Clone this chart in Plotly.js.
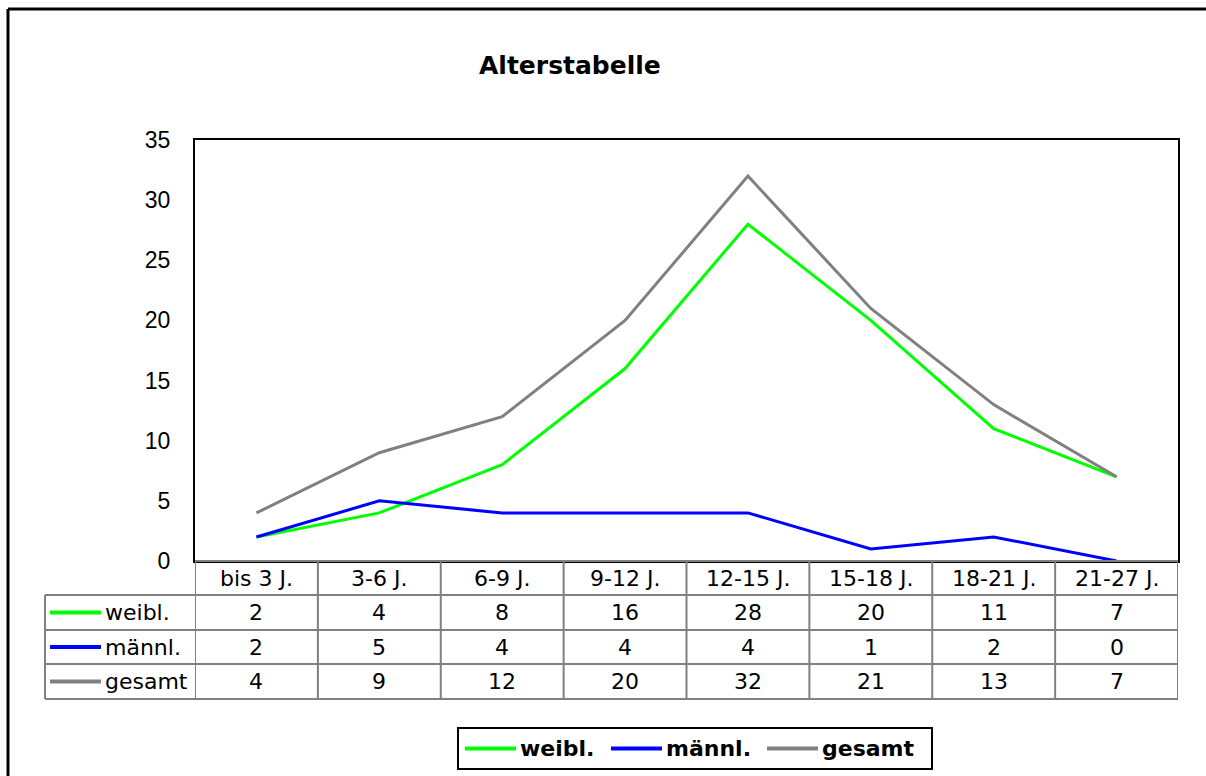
<!DOCTYPE html>
<html>
<head>
<meta charset="utf-8">
<script src="https://cdn.plot.ly/plotly-3.0.1.min.js"></script>
<style>
html,body{margin:0;padding:0;background:#fff;}
#chart{width:1206px;height:776px;}
</style>
</head>
<body>
<div id="chart"></div>
<script>
// ---- data ----
const categories = ['bis 3 J.', '3-6 J.', '6-9 J.', '9-12 J.', '12-15 J.', '15-18 J.', '18-21 J.', '21-27 J.'];
const weibl  = [2, 4, 8, 16, 28, 20, 11, 7];
const maennl = [2, 5, 4, 4, 4, 1, 2, 0];
const gesamt = [4, 9, 12, 20, 32, 21, 13, 7];
const seriesNames = ['weibl.', 'männl.', 'gesamt'];
const seriesColors = ['#00FF00', '#0000FF', '#808080'];
const chartTitle = 'Alterstabelle';

// ---- layout helpers ----
const W = 1206, H = 776;
const px = v => v / W;
const py = v => 1 - v / H;
const plotL = 195, plotR = 1178, plotT = 140, plotB = 561;
const tableLeft = 45;
const rowEdges = [561, 595, 630, 664, 699];
const tableColor = '#808080';
const tableFont = {family: 'DejaVu Sans, Verdana, sans-serif', size: 22, color: '#000'};
const legendFont = {family: 'DejaVu Sans, Verdana, sans-serif', size: 22, color: '#000', weight: 'bold'};

const seriesValues = [weibl, maennl, gesamt];

const traces = seriesValues.map((vals, i) => ({
  type: 'scatter',
  mode: 'lines',
  x: categories,
  y: vals,
  name: seriesNames[i],
  line: {color: seriesColors[i], width: 3},
  showlegend: false
}));

const shapes = [];
const annotations = [];

// outer frame (top & left)
shapes.push({type: 'line', xref: 'paper', yref: 'paper', x0: px(8), x1: 1.01, y0: py(9), y1: py(9), line: {color: '#000', width: 3}});
shapes.push({type: 'line', xref: 'paper', yref: 'paper', x0: px(8), x1: px(8), y0: py(9), y1: -0.01, line: {color: '#000', width: 3}});

// table horizontal lines
shapes.push({type: 'line', xref: 'paper', yref: 'paper', x0: px(plotL), x1: px(plotR), y0: py(rowEdges[0]), y1: py(rowEdges[0]), line: {color: tableColor, width: 2}});
for (let r = 1; r < rowEdges.length; r++) {
  shapes.push({type: 'line', xref: 'paper', yref: 'paper', x0: px(tableLeft), x1: px(plotR), y0: py(rowEdges[r]), y1: py(rowEdges[r]), line: {color: tableColor, width: 2}});
}
// table vertical lines at category boundaries
for (let k = 0; k <= categories.length; k++) {
  shapes.push({type: 'line', xref: 'x', yref: 'paper', x0: k - 0.5, x1: k - 0.5, y0: py(rowEdges[0]), y1: py(rowEdges[4]), line: {color: tableColor, width: 2}});
}
shapes.push({type: 'line', xref: 'paper', yref: 'paper', x0: px(tableLeft), x1: px(tableLeft), y0: py(rowEdges[1]), y1: py(rowEdges[4]), line: {color: tableColor, width: 2}});

// header row
categories.forEach((c, i) => {
  annotations.push({xref: 'x', yref: 'paper', x: c, y: py((rowEdges[0] + rowEdges[1]) / 2), text: c, showarrow: false, xanchor: 'center', yanchor: 'middle', font: tableFont});
});
// data rows
seriesValues.forEach((vals, s) => {
  const yc = py((rowEdges[s + 1] + rowEdges[s + 2]) / 2);
  shapes.push({type: 'line', xref: 'paper', yref: 'paper', x0: px(50), x1: px(101), y0: yc, y1: yc, line: {color: seriesColors[s], width: 4}});
  annotations.push({xref: 'paper', yref: 'paper', x: px(103), y: yc, text: seriesNames[s], showarrow: false, xanchor: 'left', yanchor: 'middle', font: tableFont});
  vals.forEach((v, i) => {
    annotations.push({xref: 'x', yref: 'paper', x: categories[i], y: yc, text: String(v), showarrow: false, xanchor: 'center', yanchor: 'middle', font: tableFont});
  });
});

// legend box (custom, below table)
const legTop = 728, legBot = 769, legL = 458, legR = 932;
const legLineStarts = [465, 611, 767];
const legYc = py((legTop + legBot) / 2);
shapes.push({type: 'rect', xref: 'paper', yref: 'paper', x0: px(legL), x1: px(legR), y0: py(legBot), y1: py(legTop), line: {color: '#000', width: 2}, fillcolor: 'rgba(0,0,0,0)'});
seriesNames.forEach((n, s) => {
  const x0 = legLineStarts[s];
  shapes.push({type: 'line', xref: 'paper', yref: 'paper', x0: px(x0), x1: px(x0 + 51), y0: legYc, y1: legYc, line: {color: seriesColors[s], width: 4}});
  annotations.push({xref: 'paper', yref: 'paper', x: px(x0 + 53), y: legYc, text: '<b>' + n + '</b>', showarrow: false, xanchor: 'left', yanchor: 'middle', font: legendFont});
});

// title
annotations.push({xref: 'paper', yref: 'paper', x: px(570), y: py(65), text: '<b>' + chartTitle + '</b>', showarrow: false, xanchor: 'center', yanchor: 'middle', font: {family: 'DejaVu Sans, Verdana, sans-serif', size: 25, color: '#000'}});

const layout = {
  width: W, height: H,
  margin: {l: 0, r: 0, t: 0, b: 0},
  paper_bgcolor: '#fff',
  plot_bgcolor: '#fff',
  showlegend: false,
  xaxis: {
    domain: [px(plotL), px(plotR)],
    type: 'category',
    range: [-0.5, categories.length - 0.5],
    showticklabels: false,
    ticks: '',
    showgrid: false,
    zeroline: false,
    showline: true,
    mirror: true,
    linecolor: '#000',
    linewidth: 2,
    fixedrange: true
  },
  yaxis: {
    domain: [py(plotB), py(plotT)],
    range: [0, 35],
    dtick: 5,
    tick0: 0,
    showgrid: false,
    zeroline: false,
    showline: true,
    mirror: true,
    linecolor: '#000',
    linewidth: 2,
    ticks: '',
    ticklabelstandoff: 18,
    tickfont: {family: 'Liberation Sans, Arial, sans-serif', size: 23, color: '#000'},
    fixedrange: true
  },
  shapes: shapes,
  annotations: annotations
};

Plotly.newPlot('chart', traces, layout, {displayModeBar: false, staticPlot: true});
</script>
</body>
</html>
